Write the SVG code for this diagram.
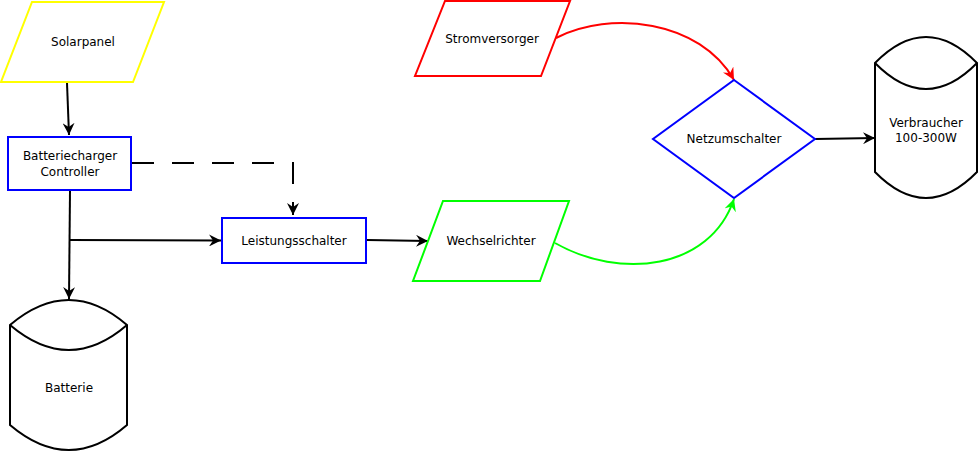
<svg xmlns="http://www.w3.org/2000/svg" width="978" height="452" viewBox="0 0 978 452">
<style>
text{font-family:"DejaVu Sans",sans-serif;font-size:12px;fill:#000;text-anchor:middle}
.s{fill:#fff;stroke-width:2}
.c{fill:none;stroke-width:2}
</style>
<defs>
<marker id="a" viewBox="0 0 10 10" refX="9" refY="5" markerWidth="7" markerHeight="7" orient="auto" markerUnits="userSpaceOnUse" style="overflow:visible">
<path d="M0,0 L10,5 L0,10 L3,5 Z" fill="context-stroke" stroke="none" transform="scale(1.4) translate(-3,-1.4)"/>
</marker>
<marker id="k" viewBox="0 0 12 12" refX="12" refY="6" markerWidth="12" markerHeight="12" orient="auto" markerUnits="userSpaceOnUse"><path d="M0,0 L12,6 L0,12 L4,6 Z" fill="#000"/></marker>
<marker id="r" viewBox="0 0 12 12" refX="12" refY="6" markerWidth="12" markerHeight="12" orient="auto" markerUnits="userSpaceOnUse"><path d="M0,0 L12,6 L0,12 L4,6 Z" fill="#f00"/></marker>
<marker id="g" viewBox="0 0 12 12" refX="12" refY="6" markerWidth="12" markerHeight="12" orient="auto" markerUnits="userSpaceOnUse"><path d="M0,0 L12,6 L0,12 L4,6 Z" fill="#0f0"/></marker>
</defs>
<g id="connectors">
<path class="c" stroke="#000" d="M67,83 L69,135" marker-end="url(#k)"/>
<path class="c" stroke="#000" d="M70,191 L69,299" marker-end="url(#k)"/>
<path class="c" stroke="#000" d="M70,240 L221,240.5" marker-end="url(#k)"/>
<path class="c" stroke="#000" stroke-dasharray="22,18" d="M132,163 L293,163 L293,215" marker-end="url(#k)"/>
<path class="c" stroke="#000" d="M367,240 L428,241" marker-end="url(#k)"/>
<path class="c" stroke="#000" d="M815,139 L875,138" marker-end="url(#k)"/>
<path class="c" stroke="#f00" d="M556,38 C610,10 700,20 734,80" marker-end="url(#r)"/>
<path class="c" stroke="#0f0" d="M555,243 C620,280 710,270 734,199" marker-end="url(#g)"/>
</g>
<g id="solarpanel"><path class="s" stroke="#ff0" d="M32,2 L164,2 L133,82 L1,82 Z"/><text x="83" y="46">Solarpanel</text></g>
<g id="controller"><rect class="s" stroke="#00f" x="8" y="137" width="123" height="53"/><text x="70" y="160">Batteriecharger</text><text x="70" y="176">Controller</text></g>
<g id="leistungsschalter"><rect class="s" stroke="#00f" x="222" y="218" width="144" height="45"/><text x="294" y="245">Leistungsschalter</text></g>
<g id="batterie"><path class="s" stroke="#000" d="M10,325 Q69,275 127,325 L127,425 Q69,475 10,425 Z"/><path class="c" stroke="#000" d="M10,325 Q69,375 127,325"/><text x="69" y="392">Batterie</text></g>
<g id="stromversorger"><path class="s" stroke="#f00" d="M445,1 L570,1 L541,76 L415,76 Z"/><text x="492" y="43">Stromversorger</text></g>
<g id="wechselrichter"><path class="s" stroke="#0f0" d="M443,201 L569,201 L540,281 L413,281 Z"/><text x="491" y="245">Wechselrichter</text></g>
<g id="netzumschalter"><path class="s" stroke="#00f" d="M734,80 L815,139 L734,198 L653,139 Z"/><text x="734" y="143">Netzumschalter</text></g>
<g id="verbraucher"><path class="s" stroke="#000" d="M875,63 Q926,11 977,63 L977,172 Q926,224 875,172 Z"/><path class="c" stroke="#000" d="M875,63 Q926,115 977,63"/><text x="926" y="127">Verbraucher</text><text x="926" y="142">100-300W</text></g>
</svg>
